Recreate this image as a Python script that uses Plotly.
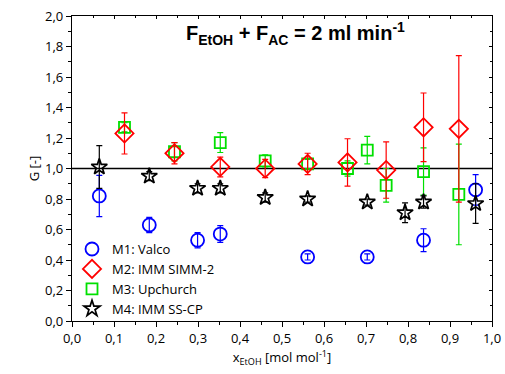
import plotly.graph_objects as go

# Mixing quality G versus ethanol mole fraction for four micromixers
m1_x = [0.065, 0.184, 0.299, 0.353, 0.561, 0.703, 0.837, 0.961]
m1_g = [0.82, 0.63, 0.53, 0.57, 0.42, 0.42, 0.53, 0.86]
m1_err = [0.135, 0.05, 0.05, 0.055, 0.02, 0.02, 0.075, 0.10]

m2_x = [0.125, 0.244, 0.353, 0.460, 0.561, 0.656, 0.748, 0.837, 0.921]
m2_g = [1.23, 1.10, 1.01, 1.00, 1.03, 1.04, 0.99, 1.27, 1.26]
m2_err = [0.135, 0.07, 0.065, 0.06, 0.07, 0.155, 0.185, 0.225, 0.48]

m3_x = [0.125, 0.244, 0.353, 0.460, 0.561, 0.656, 0.703, 0.748, 0.837, 0.921]
m3_g = [1.27, 1.11, 1.17, 1.05, 1.03, 1.00, 1.12, 0.89, 0.98, 0.83]
m3_err = [0.03, 0.06, 0.065, 0.04, 0.03, 0.05, 0.09, 0.11, 0.155, 0.33]

m4_x = [0.065, 0.184, 0.299, 0.353, 0.460, 0.561, 0.703, 0.793, 0.837, 0.961]
m4_g = [1.01, 0.95, 0.87, 0.87, 0.81, 0.80, 0.78, 0.71, 0.78, 0.77]
m4_err = [0.14, 0.03, 0.03, 0.03, 0.03, 0.02, 0.02, 0.065, 0.04, 0.13]

names = ["M1: Valco", "M2: IMM SIMM-2", "M3: Upchurch", "M4: IMM SS-CP"]

FONT = "Open Sans"

fig = go.Figure()


def series(x, g, err, name, color, symbol, size, rank, lw=1.8):
    return go.Scatter(
        x=x, y=g, mode="markers", name=name, legendrank=rank,
        marker=dict(symbol=symbol, size=size, color=color,
                    line=dict(color=color, width=lw)),
        error_y=dict(type="data", array=err, visible=True,
                     color=color, thickness=1.2, width=3),
    )


# green drawn before red so the diamonds sit on top
fig.add_trace(series(m1_x, m1_g, m1_err, names[0], "#0000FF", "circle-open", 13, 1))
fig.add_trace(series(m3_x, m3_g, m3_err, names[2], "#00E000", "square-open", 11, 3))
fig.add_trace(series(m2_x, m2_g, m2_err, names[1], "#FF0000", "diamond-open", 14, 2))
fig.add_trace(series(m4_x, m4_g, m4_err, names[3], "#000000", "star-open", 12, 4, lw=1.7))

# reference line at G = 1
fig.add_shape(type="line", xref="paper", x0=0, x1=1, yref="y", y0=1, y1=1,
              line=dict(color="#000000", width=1.3), layer="below")

axis_common = dict(showgrid=False, zeroline=False, showline=True,
                   linecolor="#000000", linewidth=1.3,
                   tickcolor="#000000", tickwidth=1, automargin=False,
                   tickfont=dict(family=FONT, size=13, color="#000000"))

fig.update_layout(
    width=505, height=374,
    margin=dict(l=72, r=13, t=16, b=53),
    paper_bgcolor="white", plot_bgcolor="white",
    separators=",.",
    showlegend=True,
    legend=dict(x=0.0, y=-0.01, xanchor="left", yanchor="bottom",
                bgcolor="rgba(0,0,0,0)", borderwidth=0,
                font=dict(family=FONT, size=13, color="#000000"),
                tracegroupgap=0, itemsizing="trace", itemwidth=30),
    xaxis=dict(range=[0, 1], dtick=0.1, tick0=0, tickformat=".1f",
               ticks="outside", ticklen=5,
               minor=dict(dtick=0.05, ticks="outside", ticklen=3,
                          tickcolor="#000000"),
               title=dict(text="x<sub>EtOH</sub> [mol mol<sup>-1</sup>]",
                          font=dict(family=FONT, size=13, color="#000000"),
                          standoff=6),
               **axis_common),
    yaxis=dict(range=[0, 2], dtick=0.2, tick0=0, tickformat=".1f",
               ticks="outside", ticklen=5,
               minor=dict(dtick=0.1, ticks="outside", ticklen=3,
                          tickcolor="#000000"),
               title=dict(text="G [-]",
                          font=dict(family=FONT, size=13, color="#000000"),
                          standoff=2),
               **axis_common),
    xaxis2=dict(overlaying="x", side="top", range=[0, 1], dtick=0.1,
                ticks="inside", ticklen=3, showticklabels=False,
                minor=dict(dtick=0.05, ticks="inside", ticklen=2,
                           tickcolor="#000000"),
                showline=True, linecolor="#000000", linewidth=1.3,
                tickcolor="#000000", showgrid=False, zeroline=False,
                automargin=False),
    yaxis2=dict(overlaying="y", side="right", range=[0, 2], dtick=0.2,
                ticks="inside", ticklen=3, showticklabels=False,
                minor=dict(dtick=0.1, ticks="inside", ticklen=2,
                           tickcolor="#000000"),
                showline=True, linecolor="#000000", linewidth=1.3,
                tickcolor="#000000", showgrid=False, zeroline=False,
                automargin=False),
)

# invisible trace that anchors the mirrored top/right axes
fig.add_trace(go.Scatter(x=[0], y=[0], xaxis="x2", yaxis="y2", mode="markers",
                         marker=dict(opacity=0), showlegend=False,
                         hoverinfo="skip"))

fig.add_annotation(
    text="<b>F<sub>EtOH</sub> + F<sub>AC</sub> = 2 ml min<sup>-1</sup></b>",
    xref="paper", yref="paper", x=0.533, y=0.944,
    xanchor="center", yanchor="middle", showarrow=False,
    font=dict(family="Liberation Sans", size=20, color="#000000"),
)

fig.write_html("out.html")
